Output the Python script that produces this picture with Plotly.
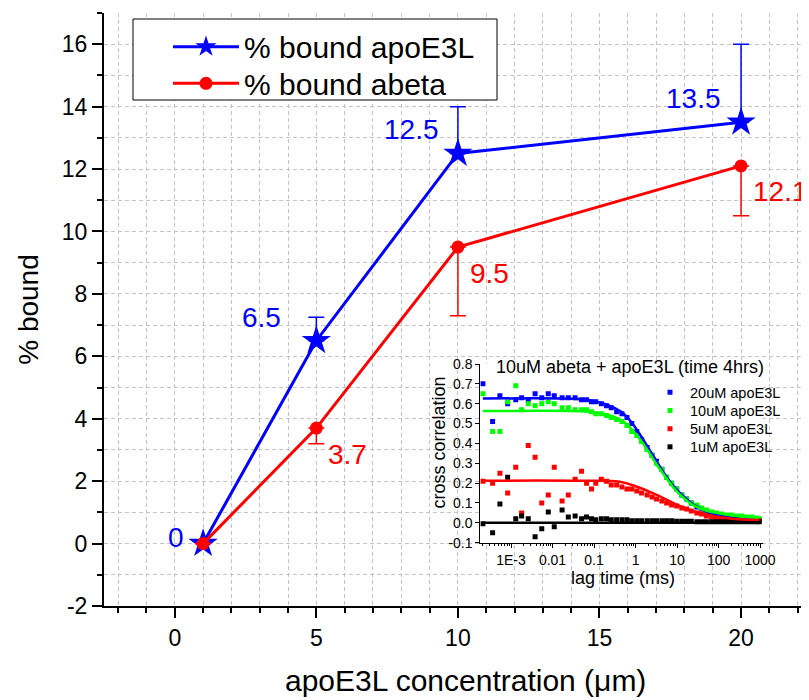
import plotly.graph_objects as go

# =========================
# Main chart data
# =========================
conc = [1, 5, 10, 20]
bound_apoe = [0, 6.5, 12.5, 13.5]
apoe_err_up = [0, 0.75, 1.5, 2.5]
bound_abeta = [0, 3.7, 9.5, 12.1]
abeta_err_down = [0, 0.5, 2.2, 1.6]

# =========================
# Inset data (cross correlation curves)
# =========================
lag_ms = [0.00021, 0.00036, 0.00054, 0.00083, 0.0013, 0.0018, 0.0026, 0.0038,
          0.0055, 0.0079, 0.011, 0.017, 0.024, 0.035, 0.05, 0.066, 0.087, 0.11,
          0.15, 0.2, 0.26, 0.35, 0.47, 0.62, 0.81, 1.07, 1.4, 1.9, 2.5, 3.2,
          4.3, 5.6, 7.4, 9.8, 13, 17, 22, 30, 39, 51, 68, 89, 117, 155, 204,
          269, 355, 468, 617, 813, 950]
cc_20uM = [0.70, 0.51, 0.64, 0.60, 0.62, 0.63, 0.62, 0.65, 0.63, 0.65, 0.64,
           0.63, 0.63, 0.63, 0.62, 0.62, 0.61, 0.61, 0.60, 0.59, 0.58, 0.56,
           0.55, 0.53, 0.50, 0.46, 0.42, 0.38, 0.34, 0.31, 0.27, 0.23, 0.20,
           0.17, 0.14, 0.12, 0.10, 0.08, 0.07, 0.055, 0.05, 0.04, 0.035, 0.03,
           0.025, 0.025, 0.02, 0.02, 0.02, 0.015, 0.015]
cc_10uM = [0.65, 0.46, 0.46, 0.61, 0.69, 0.57, 0.60, 0.59, 0.60, 0.61, 0.60,
           0.58, 0.58, 0.57, 0.57, 0.57, 0.56, 0.55, 0.55, 0.54, 0.53, 0.52,
           0.51, 0.49, 0.46, 0.44, 0.41, 0.37, 0.34, 0.30, 0.27, 0.23, 0.20,
           0.17, 0.14, 0.12, 0.10, 0.09, 0.075, 0.065, 0.055, 0.05, 0.045,
           0.04, 0.04, 0.035, 0.035, 0.03, 0.03, 0.025, 0.02]
cc_5uM = [0.21, 0.20, 0.25, 0.15, 0.28, 0.05, 0.39, 0.33, 0.10, 0.14, 0.28,
          0.11, 0.14, 0.22, 0.26, 0.20, 0.17, 0.20, 0.22, 0.21, 0.19, 0.19,
          0.18, 0.17, 0.17, 0.16, 0.15, 0.14, 0.13, 0.12, 0.11, 0.10, 0.09,
          0.085, 0.075, 0.07, 0.06, 0.05, 0.045, 0.035, 0.03, 0.025, 0.02,
          0.02, 0.015, 0.015, 0.01, 0.01, 0.01, 0.01, 0.01]
cc_1uM = [-0.005, -0.05, 0.095, 0.23, 0.02, 0.035, 0.02, -0.07, -0.03, 0.055,
          -0.02, 0.065, 0.03, 0.035, 0.02, 0.03, 0.02, 0.015, 0.02, 0.02,
          0.015, 0.015, 0.015, 0.015, 0.01, 0.01, 0.01, 0.01, 0.01, 0.01,
          0.01, 0.01, 0.01, 0.008, 0.008, 0.008, 0.008, 0.006, 0.006, 0.006,
          0.006, 0.005, 0.005, 0.005, 0.005, 0.005, 0.005, 0.005, 0.005,
          0.005, 0.005]

# fitted curves
fit_lag = [0.00021, 0.029, 0.072, 0.22, 0.45, 0.78, 1.23, 1.95, 3.1, 4.9, 8.5,
           14.8, 25.7, 54, 112, 275, 950]
fit_20uM = [0.626, 0.625, 0.618, 0.593, 0.559, 0.509, 0.450, 0.383, 0.316,
            0.249, 0.182, 0.131, 0.089, 0.056, 0.035, 0.022, 0.017]
fit_10uM = [0.563, 0.563, 0.559, 0.543, 0.517, 0.475, 0.425, 0.366, 0.299,
            0.240, 0.173, 0.123, 0.086, 0.060, 0.047, 0.035, 0.025]
fit_lag_5uM = [0.00021, 0.03, 0.42, 1.07, 2.7, 8.5, 20.6, 62, 189, 950]
fit_5uM = [0.212, 0.212, 0.207, 0.182, 0.148, 0.098, 0.064, 0.039, 0.022, 0.014]
fit_lag_1uM = [0.00021, 950]
fit_1uM = [0.0, 0.0]

inset_names = ["20uM apoE3L", "10uM apoE3L", "5uM apoE3L", "1uM apoE3L"]
inset_colors = ["#0000ff", "#00ff00", "#ff0000", "#000000"]

# label offsets (px) for the blue value labels
apoe_label_dx = [-17, -33, -17, -18]
apoe_label_dy = [6, 23, 24, 24]

FONT = "Arial, Liberation Sans, sans-serif"

# the page body adds an 8px offset, so the margins are shifted to compensate
PLOT_L, PLOT_T, PLOT_W, PLOT_H = 104, 13, 705, 593
PAGE_OFF = 8


def px_x(px):
    return (px - PLOT_L) / PLOT_W


def px_y(py):
    return (PLOT_T + PLOT_H - py) / PLOT_H


def main():
    fig = go.Figure()

    # =========================
    # Main series
    # =========================
    fig.add_trace(go.Scatter(
        x=conc, y=bound_apoe, name="% bound apoE3L",
        mode="lines+markers",
        line=dict(color="#0000ff", width=3),
        marker=dict(symbol="star", size=22, color="#0000ff"),
        error_y=dict(type="data", symmetric=False, array=apoe_err_up,
                     arrayminus=[0] * len(conc), color="#0000ff",
                     thickness=1.5, width=8),
        legend="legend",
    ))
    fig.add_trace(go.Scatter(
        x=conc, y=bound_abeta, name="% bound abeta",
        mode="lines+markers",
        line=dict(color="#ff0000", width=3),
        marker=dict(symbol="circle", size=13, color="#ff0000"),
        error_y=dict(type="data", symmetric=False, array=[0] * len(conc),
                     arrayminus=abeta_err_down, color="#ff0000",
                     thickness=1.5, width=8),
        legend="legend2",
    ))

    # =========================
    # Inset
    # =========================
    for i, (vals, name, col) in enumerate(zip([cc_20uM, cc_10uM, cc_5uM, cc_1uM],
                                              inset_names, inset_colors)):
        fig.add_trace(go.Scatter(
            x=lag_ms, y=vals, name=name, mode="markers",
            marker=dict(symbol="square", size=5, color=col),
            xaxis="x2", yaxis="y2", legend=f"legend{i + 3}",
        ))
    for lx, ly, col in zip([fit_lag, fit_lag, fit_lag_5uM, fit_lag_1uM],
                           [fit_20uM, fit_10uM, fit_5uM, fit_1uM],
                           inset_colors):
        fig.add_trace(go.Scatter(
            x=lx, y=ly, mode="lines", line=dict(color=col, width=2.5, shape="spline"),
            xaxis="x2", yaxis="y2", showlegend=False, hoverinfo="skip",
        ))

    # value labels
    annotations = []
    for x, y, dx, dy in zip(conc, bound_apoe, apoe_label_dx, apoe_label_dy):
        annotations.append(dict(
            x=x, y=y, xref="x", yref="y", text=f"{y:g}", showarrow=False,
            xanchor="right", yanchor="middle", xshift=dx, yshift=dy,
            font=dict(size=28, color="#0000ff"),
        ))
    for x, y in zip(conc, bound_abeta):
        if y == 0:
            continue
        annotations.append(dict(
            x=x, y=y, xref="x", yref="y", text=f"{y:g}", showarrow=False,
            xanchor="left", yanchor="middle", xshift=10, yshift=-26,
            font=dict(size=28, color="#ff0000"),
        ))

    # titles placed as text (x axis title, inset title and inset axis titles)
    titles = [
        ("apoE3L concentration (μm)", 465, 680, 30, 0),
        ("10uM abeta + apoE3L (time 4hrs)", 630, 367, 18, 0),
        ("lag time (ms)", 622.5, 578, 18, 0),
        ("cross correlation", 438.5, 443, 18, -90),
    ]
    for text, tx, ty, size, angle in titles:
        annotations.append(dict(
            text=text, showarrow=False, xref="paper", yref="paper",
            x=px_x(tx), y=px_y(ty), xanchor="center", yanchor="middle",
            textangle=angle, font=dict(size=size),
        ))

    grid = dict(showgrid=True, gridcolor="#c4c4c4", gridwidth=1, griddash="4px,3px")
    main_yticks = list(range(-2, 17, 2))
    inset_yticks = [-0.1, 0.0, 0.1, 0.2, 0.3, 0.4, 0.5, 0.6, 0.7, 0.8]

    legends = {}
    legend_base = dict(xanchor="left", yanchor="middle", bgcolor="rgba(0,0,0,0)",
                       borderwidth=0, tracegroupgap=0)
    legends["legend"] = dict(legend_base, x=px_x(168), y=px_y(46.7),
                             font=dict(size=30), itemwidth=66)
    legends["legend2"] = dict(legend_base, x=px_x(168), y=px_y(83.3),
                              font=dict(size=30), itemwidth=66)
    for i in range(4):
        legends[f"legend{i + 3}"] = dict(
            legend_base, x=px_x(650), y=px_y(392.3 + 18.2 * i),
            font=dict(size=14.5), itemwidth=30)

    fig.update_layout(
        width=809, height=700,
        margin=dict(l=PLOT_L - PAGE_OFF, r=809 - PLOT_L - PLOT_W + PAGE_OFF,
                    t=PLOT_T - PAGE_OFF, b=700 - PLOT_T - PLOT_H + PAGE_OFF,
                    autoexpand=False),
        paper_bgcolor="white", plot_bgcolor="white",
        font=dict(family=FONT, color="black"),
        showlegend=True,
        xaxis=dict(
            range=[-2.5, 22.4], tickvals=[0, 5, 10, 15, 20],
            showgrid=False, zeroline=False, automargin=False,
            showline=True, linecolor="black", linewidth=2,
            ticks="outside", ticklen=10, tickwidth=2, tickcolor="black",
            tickfont=dict(size=23),
            minor=dict(dtick=1, ticks="outside", ticklen=5, tickwidth=2,
                       tickcolor="black", **grid),
        ),
        yaxis=dict(
            range=[-2, 17], tickvals=main_yticks,
            ticktext=[f"{v:g}" for v in main_yticks],
            showgrid=False, zeroline=False, automargin=False,
            showline=True, linecolor="black", linewidth=2,
            ticks="outside", ticklen=10, tickwidth=2, tickcolor="black",
            tickfont=dict(size=23),
            minor=dict(dtick=1, tick0=0, ticks="outside", ticklen=5, tickwidth=2,
                       tickcolor="black", **grid),
            title=dict(text="% bound", font=dict(size=28)),
        ),
        xaxis2=dict(
            domain=[px_x(480.3), px_x(763)], anchor="y2", type="log",
            range=[-3.74, 3.07],
            tickvals=[0.001, 0.01, 0.1, 1, 10, 100, 1000],
            ticktext=["1E-3", "0.01", "0.1", "1", "10", "100", "1000"],
            showgrid=False, zeroline=False, automargin=False,
            showline=True, linecolor="black", linewidth=1,
            ticks="outside", ticklen=4, tickwidth=1, tickcolor="black",
            tickfont=dict(size=14),
            minor=dict(dtick="D1", ticks="outside", ticklen=2, tickwidth=1,
                       tickcolor="black", showgrid=False),
        ),
        yaxis2=dict(
            domain=[px_y(542.7), px_y(364)], anchor="x2",
            range=[-0.1, 0.8], tickvals=inset_yticks,
            ticktext=[f"{v:.1f}" for v in inset_yticks],
            showgrid=False, zeroline=False, automargin=False,
            showline=True, linecolor="black", linewidth=1,
            ticks="outside", ticklen=4, tickwidth=1, tickcolor="black",
            tickfont=dict(size=14),
        ),
        shapes=[dict(
            type="rect", xref="paper", yref="paper", layer="above",
            x0=px_x(133), x1=px_x(497), y0=px_y(100), y1=px_y(19),
            fillcolor="white", line=dict(color="black", width=1),
        )],
        annotations=annotations,
        **legends,
    )

    fig.write_html("out.html")


if __name__ == "__main__":
    main()
